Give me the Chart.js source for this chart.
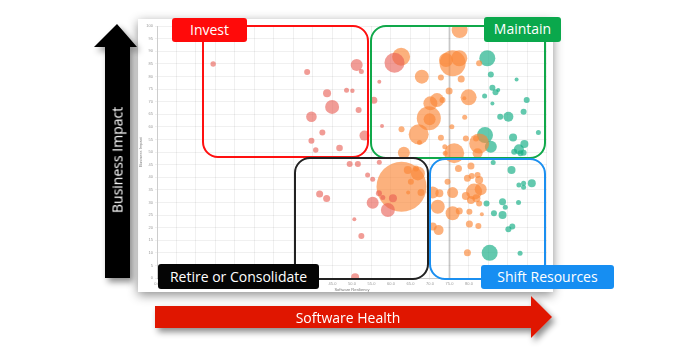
<!DOCTYPE html>
<html>
<head>
<meta charset="utf-8">
<script src="https://cdn.jsdelivr.net/npm/chart.js@4.4.1/dist/chart.umd.min.js"></script>
<style>
  html,body{margin:0;padding:0;background:#fff;width:700px;height:351px;overflow:hidden;font-family:"Open Sans",sans-serif;}
  #paper{position:absolute;left:138px;top:19px;width:415px;height:273px;background:#fff;box-shadow:0 3px 10px rgba(0,0,0,0.45);}
  #paper canvas{position:absolute;left:0;top:0;}
  .quad{position:absolute;border:2px solid;border-radius:16px;box-sizing:border-box;}
  .tag{position:absolute;color:#fff;font-size:14px;line-height:24px;text-align:center;border-radius:3px;white-space:nowrap;}
  svg{position:absolute;left:0;top:0;}
  .arrowtxt{position:absolute;color:#fff;font-size:14px;white-space:nowrap;}
</style>
</head>
<body>
<div id="paper"><canvas id="c" width="415" height="273"></canvas></div>

<div class="quad" style="left:202px;top:25px;width:167px;height:133px;border-color:#ff1010;"></div>
<div class="quad" style="left:370px;top:25px;width:176px;height:134px;border-color:#10a84a;"></div>
<div class="quad" style="left:294px;top:157px;width:135px;height:123px;border-color:#222;"></div>
<div class="quad" style="left:429px;top:158px;width:117px;height:122px;border-color:#1b8ff0;"></div>

<div class="tag" style="left:172px;top:18px;width:75px;height:24px;background:#ff0a0a;">Invest</div>
<div class="tag" style="left:484px;top:17px;width:77px;height:25px;background:#0aa84c;">Maintain</div>
<div class="tag" style="left:158px;top:264px;width:161px;height:25px;background:#050505;line-height:25px;">Retire or Consolidate</div>
<div class="tag" style="left:481px;top:265px;width:133px;height:24px;background:#168ef2;">Shift Resources</div>

<svg width="700" height="351">
  <defs>
    <filter id="sh" x="-30%" y="-30%" width="160%" height="160%">
      <feDropShadow dx="3" dy="4" stdDeviation="3" flood-color="#000" flood-opacity="0.45"/>
    </filter>
  </defs>
  <polygon filter="url(#sh)" fill="#000" points="105,278 105,47 94,47 117,24 137,47 130,47 130,278"/>
  <polygon filter="url(#sh)" fill="#e01406" points="155,306 531,306 531,296 552,317 531,338 531,328 155,328"/>
</svg>
<div class="arrowtxt" style="left:117px;top:160px;transform:translate(-50%,-50%) rotate(-90deg);">Business Impact</div>
<div class="arrowtxt" style="left:348px;top:317px;transform:translate(-50%,-50%);">Software Health</div>

<script>
// ---- data ----
const tickStep = 5;
const refLineX = 75;

const redX = [14.4,38.5,43.6,44.9,48.6,50.1,39.6,42.4,39.6,40.7,46.8,51.2,52.4,51.7,53.2,60.9,57.7,41.7,43.5,49.4,51.5,57.0,54.0,55.3,56.9,57.9,55.3,59.2,60.5,50.6,52.4,50.8,57.0,55.6];
const redY = [84.9,81.7,73.3,67.9,74.5,74.3,64.0,57.7,54.5,50.8,51.6,84.5,81.9,66.7,56.5,85.4,60.3,33.3,31.5,45.2,45.2,45.9,40.9,39.2,33.6,31.9,29.9,27.0,31.6,23.3,16.7,0.3,77.9,70.5];
const redSize = [2.7,3,4,7,2.5,2.2,5.3,3,3,2.7,3.3,6,2.5,3,5,10,2,3.5,3.5,3,3,2.5,2.5,2.5,3,2.5,6,7,4,2,3,4,2,3.5];

const orangeX = [62.6,67.9,72.8,77.6,75.8,77.5,74.1,78.0,74.9,79.9,78.8,71.8,70.1,73.2,69.7,69.9,62.7,67.1,67.3,72.8,75.6,78.9,79.2,81.8,82.6,82.6,73.8,76.2,63.3,73.9,62.7,64.3,65.1,66.9,67.7,64.4,66.4,77.3,80.5,82.2,74.5,79.6,80.7,82.6,82.2,83.0,81.3,75.8,79.2,80.5,81.9,82.6,70.7,72.4,72.0,75.8,77.5,80.1,83.3,80.1,82.4,70.7,72.2,79.6];
const orangeY = [87.8,79.9,79.6,98.4,85.2,87.2,86.5,79.0,74.2,71.7,71.3,70.6,69.3,70.6,63.4,63.0,59.0,57.0,53.8,55.7,60.0,63.8,55.4,55.4,53.4,85.2,52.1,49.5,49.7,49.5,36.2,42.9,38.2,41.5,33.9,33.9,43.5,43.5,44.4,49.5,38.2,39.6,40.5,38.9,40.9,35.2,34.3,33.9,32.5,31.0,31.6,29.6,33.9,33.6,28.3,25.7,26.6,26.3,25.3,21.4,20.6,20.4,19.0,10.0];
const orangeSize = [9,7,3,8,13,8,7,3.5,3.5,8,2,7,7,3,12,6,3,10,2.5,3,2.5,2.5,3,3,10,3,2.5,10,6,2.5,25,4,3,7,3.5,2,3,3.5,3.5,5,3,3.5,3,4,3,6,8,5.5,4,4,4,3,6,4,7,7,3.5,3,2,3.5,3,4,5,3.5];

const tealX = [84.7,85.6,92.2,86.0,86.8,87.5,84.0,86.0,94.8,90.1,88.0,94.0,84.1,91.3,97.8,85.6,92.8,94.2,91.6,94.0,85.3,93.1,84.5,88.6,89.3,86.4,88.6,90.1,91.1,92.7,90.9,92.8,94.0,96.1,94.0,86.2,93.2];
const tealY = [87.2,80.8,78.8,75.5,73.7,74.6,72.2,69.2,70.6,64.0,64.0,66.0,56.7,55.8,57.7,52.1,51.1,53.2,50.1,49.7,10.0,9.8,29.6,30.3,28.1,25.7,25.0,19.3,20.4,30.0,42.9,36.9,37.6,37.6,36.0,45.8,49.5];
const tealSize = [8,3,2,3,3,2,2.5,2,3,5,3,3,8,4,2.5,6,5,4,3,3,8,2.5,3,3.5,2.5,3,4,3,3,2.5,4,2.5,2.5,4,2.5,2.5,3];

function pts(xs, ys, rs){ return xs.map((x,i)=>({x:x, y:ys[i], r:rs[i]})); }

new Chart(document.getElementById('c'), {
  type: 'bubble',
  data: {
    datasets: [
      { type:'line', data:[{x:refLineX,y:0},{x:refLineX,y:100}], borderColor:'rgba(0,0,0,0.17)', borderWidth:2, pointRadius:0, order:10, clip:0 },
      { label:'red', data: pts(redX, redY, redSize), backgroundColor:'rgba(232,90,80,0.6)', borderWidth:0, clip:0 },
      { label:'orange', data: pts(orangeX, orangeY, orangeSize), backgroundColor:'rgba(250,135,55,0.65)', borderWidth:0, clip:0 },
      { label:'teal', data: pts(tealX, tealY, tealSize), backgroundColor:'rgba(25,175,135,0.68)', borderWidth:0, clip:0 }
    ]
  },
  options: {
    responsive:false, animation:false, events:[],
    layout:{ autoPadding:false, padding:{ top:7, right:5, left:0, bottom:0 } },
    plugins:{ legend:{display:false}, tooltip:{enabled:false} },
    scales:{
      x:{ type:'linear', min:0, max:100,
          ticks:{ stepSize:tickStep, autoSkip:false, maxRotation:0, font:{size:4}, color:'#999', padding:1, callback:v=>Number(v).toFixed(1) },
          grid:{ color:'rgba(0,0,0,0.06)', tickLength:2 },
          border:{ color:'rgba(0,0,0,0.15)' },
          title:{ display:true, text:'Software Resiliency', font:{size:4}, color:'#777', padding:{top:1,bottom:0} },
          afterFit:s=>{ s.height = 14; } },
      y:{ min:0, max:100,
          ticks:{ stepSize:tickStep, font:{size:4}, color:'#999', padding:2 },
          grid:{ color:'rgba(0,0,0,0.06)', tickLength:2 },
          border:{ color:'rgba(0,0,0,0.15)' },
          title:{ display:true, text:'Business Impact', font:{size:4}, color:'#777', padding:0 },
          afterFit:s=>{ s.width = 19; } }
    }
  }
});
</script>
</body>
</html>
